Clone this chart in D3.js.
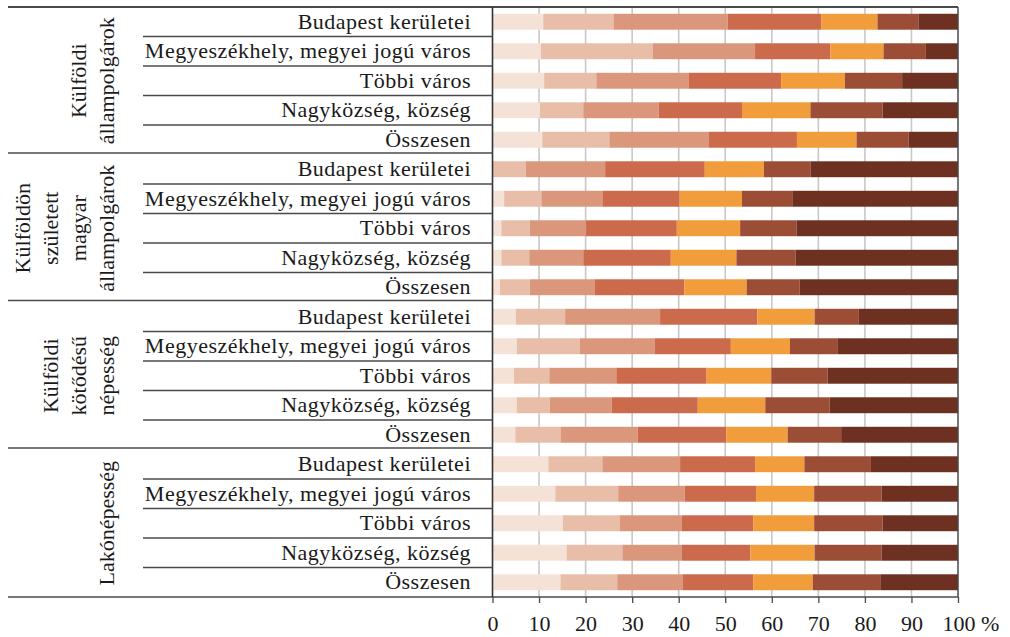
<!DOCTYPE html>
<html><head><meta charset="utf-8">
<script src="https://cdn.jsdelivr.net/npm/d3@7"></script>
<style>
html,body{margin:0;padding:0;background:#fff;}
svg text{font-family:"Liberation Serif","DejaVu Serif",serif;fill:#1a1a1a;}
</style></head>
<body>
<svg id="chart" width="1010" height="637"></svg>
<script>
// ---- data ----
const categories = ["Budapest kerületei", "Megyeszékhely, megyei jogú város", "Többi város", "Nagyközség, község", "Összesen"];
const groups = [
  ["Külföldi", "állampolgárok"],
  ["Külföldön", "született", "magyar", "állampolgárok"],
  ["Külföldi", "kötődésű", "népesség"],
  ["Lakónépesség"]
];
const s1 = [10.9,10.4,11.1,10.2,10.7, 0.0,2.5,1.9,1.9,1.6, 5.0,5.2,4.6,5.2,4.9, 12.0,13.5,15.1,15.9,14.6];
const s2 = [15.1,24.0,11.2,9.3,14.4, 7.2,8.0,6.1,6.0,6.4, 10.6,13.5,7.6,7.1,9.7, 11.6,13.5,12.2,12.0,12.2];
const s3 = [24.5,22.0,19.8,16.2,21.3, 17.0,13.1,12.1,11.6,13.9, 20.4,16.1,14.4,13.3,16.6, 16.7,14.3,13.3,12.7,14.0];
const s4 = [20.1,16.2,19.9,17.9,19.0, 21.4,16.6,19.5,18.8,19.3, 20.9,16.4,19.4,18.5,19.0, 16.1,15.3,15.4,14.8,15.2];
const s5 = [12.1,11.4,13.7,14.7,12.8, 12.7,13.4,13.6,14.1,13.4, 12.3,12.7,13.9,14.5,13.2, 10.6,12.5,13.1,13.8,12.8];
const s6 = [8.8,9.1,12.3,15.5,11.2, 10.0,10.8,12.1,12.7,11.4, 9.5,10.3,12.1,13.8,11.5, 14.3,14.5,14.7,14.4,14.5];
const s7 = [8.5,6.9,12.0,16.2,10.6, 31.7,35.6,34.7,34.9,34.0, 21.3,25.8,28.0,27.6,25.1, 18.7,16.4,16.2,16.4,16.7];
const seriesValues = [s1, s2, s3, s4, s5, s6, s7];
const seriesKeys = ["s1","s2","s3","s4","s5","s6","s7"];
const colors = ["#F4E2D7","#E8BEA8","#DB977B","#CC6A4C","#F29D3C","#9B4D36","#6E3020"];
const tickValues = [0,10,20,30,40,50,60,70,80,90,100];
const tickLabels = ["0","10","20","30","40","50","60","70","80","90","100"];

// ---- build rows ----
const rows = [];
groups.forEach((g, gi) => categories.forEach((c, ci) => {
  const idx = gi * categories.length + ci;
  const r = {id: idx, group: gi, cat: c};
  seriesKeys.forEach((k, si) => r[k] = seriesValues[si][idx]);
  rows.push(r);
}));

const svg = d3.select("#chart");
const L = 492.5, R = 958, T = 7, B = 597;
const x = d3.scaleLinear().domain([0, 100]).range([L, R]);
const y = d3.scaleBand().domain(rows.map(d => d.id)).range([T, B]).paddingInner(0.46).paddingOuter(0.23);
const step = y.step();
const stack = d3.stack().keys(seriesKeys);
const stacked = stack(rows);

// gridlines
svg.append("g").selectAll("line").data(tickValues.filter(v => v > 0 && v < 100)).join("line")
  .attr("x1", d => x(d)).attr("x2", d => x(d)).attr("y1", T).attr("y2", B)
  .attr("stroke", "#c8c8c8").attr("stroke-width", 1.6);

// bars
svg.append("g").selectAll("g").data(stacked).join("g")
  .attr("fill", (d, i) => colors[i])
  .selectAll("rect").data(d => d).join("rect")
  .attr("x", d => x(d[0])).attr("width", d => Math.max(0, x(d[1]) - x(d[0])))
  .attr("y", d => y(d.data.id)).attr("height", y.bandwidth());

// frame lines
const lineCol = "#4a4a4a";
function hline(x1, x2, yy, w) {
  svg.append("line").attr("x1", x1).attr("x2", x2).attr("y1", yy).attr("y2", yy)
    .attr("stroke", lineCol).attr("stroke-width", w || 1.5);
}
hline(8, R, T, 2);
hline(8, R, B, 1.5);
svg.append("line").attr("x1", R).attr("x2", R).attr("y1", T).attr("y2", B).attr("stroke", lineCol).attr("stroke-width", 1.5);
svg.append("line").attr("x1", L).attr("x2", L).attr("y1", T).attr("y2", B).attr("stroke", "#333").attr("stroke-width", 1.6);

// row separators and group separators
rows.forEach((d, i) => {
  if (i === 0) return;
  const yy = y(d.id) - step * y.paddingInner() / 2;
  if (d.group !== rows[i - 1].group) hline(8, L, yy - 1.5, 1.5);
  else hline(143, L, yy, 1.3);
});

// category labels
svg.append("g").selectAll("text").data(rows).join("text")
  .attr("x", 471).attr("y", d => y(d.id) + y.bandwidth() / 2 + 7)
  .attr("text-anchor", "end").attr("font-size", 22).attr("letter-spacing", 0.5)
  .text(d => d.cat);

// group labels (rotated)
groups.forEach((lines, gi) => {
  const first = rows[gi * categories.length], last = rows[gi * categories.length + categories.length - 1];
  const cy = (y(first.id) + y(last.id) + y.bandwidth()) / 2;
  const lh = 28;
  const t = svg.append("text").attr("font-size", 22).attr("text-anchor", "middle")
    .attr("transform", `translate(${114},${cy}) rotate(-90)`);
  lines.forEach((ln, li) => {
    t.append("tspan").attr("x", 0).attr("y", -(lines.length - 1 - li) * lh).text(ln);
  });
});

// bottom axis
const axis = d3.axisBottom(x).tickValues(tickValues).tickSize(6).tickSizeOuter(0)
  .tickFormat((d, i) => tickLabels[i]);
const ax = svg.append("g").attr("transform", `translate(0,${B})`).call(axis);
ax.select(".domain").remove();
ax.selectAll(".tick line").attr("stroke", lineCol).attr("stroke-width", 1.3);
ax.selectAll(".tick text").attr("font-size", 22).attr("y", 18).attr("fill", "#1a1a1a")
  .attr("font-family", "Liberation Serif, serif");
// percent sign after last label
const lastTick = ax.selectAll(".tick").filter(d => d === 100);
lastTick.select("text").append("tspan").text(" %");
lastTick.select("text").attr("text-anchor", "start").attr("dx", -16);
</script>
</body></html>
